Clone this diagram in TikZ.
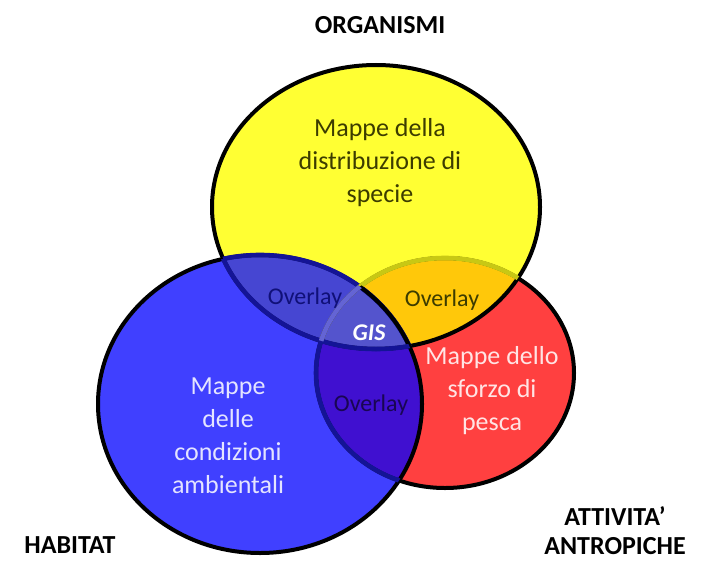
\documentclass[tikz,border=0pt]{standalone}
\usepackage{fontspec}
\setmainfont{Carlito}

\definecolor{orgfill}{RGB}{255,255,51}
\definecolor{habfill}{RGB}{64,64,255}
\definecolor{antfill}{RGB}{255,64,64}
\definecolor{orghab}{RGB}{70,70,210}
\definecolor{organt}{RGB}{255,200,10}
\definecolor{habant}{RGB}{64,16,208}
\definecolor{gisfill}{RGB}{84,84,205}
\definecolor{darkblu}{RGB}{20,20,150}
\definecolor{olive}{RGB}{200,200,20}
\definecolor{gisline}{RGB}{100,100,212}
\definecolor{txtorg}{RGB}{60,60,0}
\definecolor{txthab}{RGB}{228,228,255}
\definecolor{txtant}{RGB}{255,228,228}

\begin{document}
\begin{tikzpicture}[
  x=1pt, y=-1pt,
  outline/.style={line width=4pt, black},
  innerline/.style={line width=4.6pt},
  settext/.style={align=center, font=\bfseries\fontsize{26}{29}\selectfont},
  maptext/.style={align=center, font=\fontsize{26}{33}\selectfont},
  overtext/.style={font=\fontsize{24}{28}\selectfont}
]

% Shapes of the three sets
\def\orgpath{(376,207) ellipse [x radius=164pt, y radius=142pt]}
\def\habpath{(260,404) ellipse [x radius=162pt, y radius=149pt]}
\def\antpath{(445,373) ellipse [x radius=129pt, y radius=115pt]}

\fill[white] (0,0) rectangle (706,567);
\useasboundingbox (0,0) rectangle (706,567);

% Fills
\fill[orgfill] \orgpath;
\fill[antfill] \antpath;
\fill[habfill] \habpath;
\begin{scope}
  \clip \orgpath;
  \fill[orghab] \habpath;
  \fill[organt] \antpath;
\end{scope}
\begin{scope}
  \clip \habpath;
  \fill[habant] \antpath;
\end{scope}
\begin{scope}
  \clip \orgpath; \clip \habpath;
  \fill[gisfill] \antpath;
\end{scope}

% Outer borders
\draw[outline] \orgpath;
\draw[outline] \habpath;
\draw[outline] \antpath;

% Inner borders
\begin{scope}
  \clip \orgpath;
  \draw[innerline, darkblu] \habpath;
  \draw[innerline, olive] \antpath;
\end{scope}
\begin{scope}
  \clip \orgpath; \clip \antpath;
  \draw[outline] \habpath;
\end{scope}
\begin{scope}
  \clip \habpath;
  \draw[innerline, darkblu] \orgpath;
  \draw[innerline, darkblu] \antpath;
\end{scope}
\begin{scope}
  \clip \habpath; \clip \orgpath;
  \draw[innerline, gisline] \antpath;
\end{scope}

% Set labels
\node[settext] (organismi) at (380,25) {ORGANISMI};
\node[settext] (habitat) at (70,545) {HABITAT};
\node[settext] (attivita) at (615,531) {ATTIVITA'\\ANTROPICHE};

% Texts in the sets
\node[maptext, text=txtorg] (specie) at (380,163) {Mappe della\\distribuzione di\\specie};
\node[maptext, text=txthab] (ambiente) at (228,436) {Mappe\\delle\\condizioni\\ambientali};
\node[maptext, text=txtant] (pesca) at (492,391) {Mappe dello\\sforzo di\\pesca};

% Overlaps
\node[overtext, text=darkblu!80!black] (overorghab) at (305,298) {Overlay};
\node[overtext, text=txtorg] (overorgant) at (442,300) {Overlay};
\node[overtext, text=habant!40!black] (overhabant) at (371,405) {Overlay};
\node[font=\bfseries\itshape\fontsize{24}{28}\selectfont, text=white] (gis) at (369,333) {GIS};

\end{tikzpicture}
\end{document}
